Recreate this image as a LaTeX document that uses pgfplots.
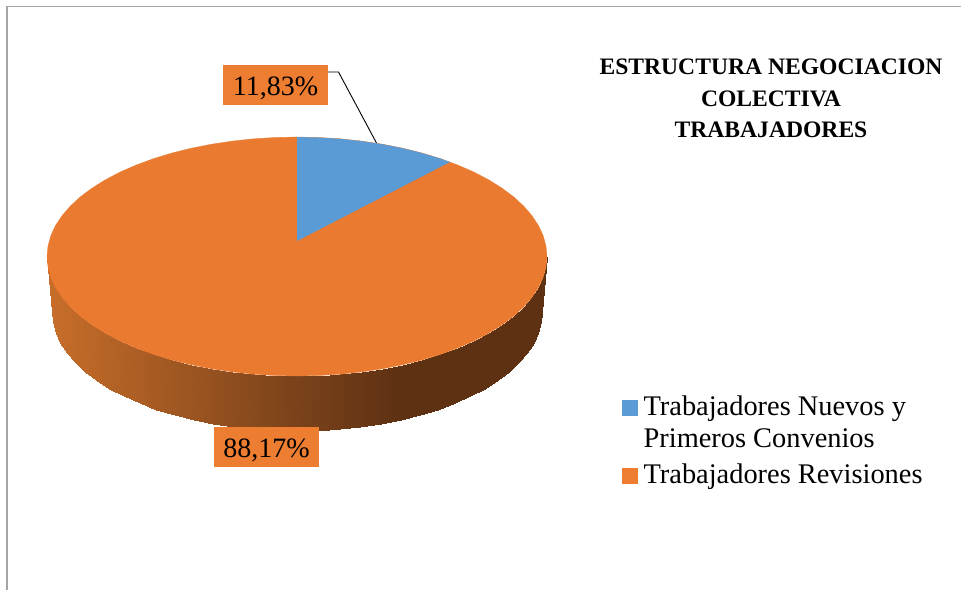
\documentclass[border=0pt]{standalone}
\usepackage{pgfplots}
\pgfplotsset{compat=1.18}
\usepackage{fontspec}
\setmainfont{Liberation Serif}
\definecolor{sliceBlue}{RGB}{91,155,213}
\definecolor{sliceOrange}{RGB}{233,122,47}
\definecolor{labelOrange}{RGB}{237,125,49}
\definecolor{frameGray}{RGB}{165,165,165}
\begin{document}
\begin{tikzpicture}
\begin{axis}[
  scale only axis, width=961pt, height=590pt,
  xmin=0, xmax=961, ymin=0, ymax=590, y dir=reverse,
  hide axis, clip=false,
  colormap={side}{rgb255(0pt)=(200,110,42) rgb255(250pt)=(122,66,26) rgb255(353pt)=(94,49,19) rgb255(500pt)=(94,49,19)},
  point meta min=47, point meta max=547,
  legend style={draw=none, fill=none, at={(axis cs:619,394)}, anchor=north west,
    font=\fontsize{28.4}{32}\selectfont, nodes={align=left, inner sep=0pt}, row sep=14pt,
    /tikz/column 1/.style={column sep=6pt}},
  legend cell align=left,
]
\path[use as bounding box] (axis cs:0,0) rectangle (axis cs:961,590);
% frame
\addplot[frameGray, line width=1.6pt, forget plot] coordinates {(7,590) (7,6.5) (961,6.5)};
% side wall
\addplot[patch, patch type=rectangle, shader=interp, point meta=x, forget plot,
  patch table={
0 1 38 37\\ 1 2 39 38\\ 2 3 40 39\\ 3 4 41 40\\ 4 5 42 41\\ 5 6 43 42\\
6 7 44 43\\ 7 8 45 44\\ 8 9 46 45\\ 9 10 47 46\\ 10 11 48 47\\ 11 12 49 48\\
12 13 50 49\\ 13 14 51 50\\ 14 15 52 51\\ 15 16 53 52\\ 16 17 54 53\\ 17 18 55 54\\
18 19 56 55\\ 19 20 57 56\\ 20 21 58 57\\ 21 22 59 58\\ 22 23 60 59\\ 23 24 61 60\\
24 25 62 61\\ 25 26 63 62\\ 26 27 64 63\\ 27 28 65 64\\ 28 29 66 65\\ 29 30 67 66\\
30 31 68 67\\ 31 32 69 68\\ 32 33 70 69\\ 33 34 71 70\\ 34 35 72 71\\ 35 36 73 72\\
}] table[row sep=\\] {
x y\\
547 256.5\\ 546 266.9\\ 543.2 277.2\\ 538.5 287.4\\ 531.9 297.4\\ 523.6 307\\ 513.5 316.3\\ 501.8 325\\ 488.5 333.3\\
473.8 341\\ 457.7 348\\ 440.4 354.4\\ 422 360\\ 402.7 364.8\\ 382.5 368.8\\ 361.7 371.9\\ 340.4 374.2\\ 318.8 375.5\\
297 376\\ 275.2 375.5\\ 253.6 374.2\\ 232.3 371.9\\ 211.5 368.8\\ 191.3 364.8\\ 172 360\\ 153.6 354.4\\ 136.3 348\\
120.2 341\\ 105.5 333.3\\ 92.2 325\\ 80.5 316.3\\ 70.4 307\\ 62.1 297.4\\ 55.5 287.4\\ 50.8 277.2\\ 48 266.9\\ 47 256.5\\
542 312\\ 541.1 322.4\\ 538.3 332.7\\ 533.6 342.8\\ 527.2 352.7\\ 519 362.3\\ 509.2 371.5\\ 497.7 380.3\\ 484.7 388.5\\
470.2 396.1\\ 454.5 403.2\\ 437.5 409.5\\ 419.5 415.1\\ 400.5 419.9\\ 380.8 423.8\\ 360.4 426.9\\ 339.5 429.2\\ 318.4 430.5\\
297 431\\ 275.6 430.5\\ 254.5 429.2\\ 233.6 426.9\\ 213.2 423.8\\ 193.5 419.9\\ 174.5 415.1\\ 156.5 409.5\\ 139.5 403.2\\
123.8 396.1\\ 109.3 388.5\\ 96.3 380.3\\ 84.8 371.5\\ 75 362.3\\ 66.8 352.7\\ 60.4 342.8\\ 55.7 332.7\\ 52.9 322.4\\ 52 312\\
};
% top face, share 88.17
\addplot[fill=sliceOrange, draw=sliceOrange, line width=0.3pt, forget plot] coordinates {
(547,256.5)(546,266.9)(543.2,277.2)(538.5,287.4)(531.9,297.4)(523.6,307)(513.5,316.3)(501.8,325)(488.5,333.3)
(473.8,341)(457.7,348)(440.4,354.4)(422,360)(402.7,364.8)(382.5,368.8)(361.7,371.9)(340.4,374.2)(318.8,375.5)
(297,376)(275.2,375.5)(253.6,374.2)(232.3,371.9)(211.5,368.8)(191.3,364.8)(172,360)(153.6,354.4)(136.3,348)
(120.2,341)(105.5,333.3)(92.2,325)(80.5,316.3)(70.4,307)(62.1,297.4)(55.5,287.4)(50.8,277.2)(48,266.9)(47,256.5)
(48,246.1)(50.8,235.8)(55.5,225.6)(62.1,215.6)(70.4,206)(80.5,196.7)(92.2,188)(105.5,179.7)
(120.2,172)(136.3,165)(153.6,158.6)(172,153)(191.3,148.2)(211.5,144.2)(232.3,141.1)(253.6,138.8)(275.2,137.5)
(297,137)(318.8,137.5)(340.4,138.8)(361.7,141.1)(382.5,144.2)(402.7,148.2)(422,153)(440.4,158.6)(457.7,165)
(473.8,172)(488.5,179.7)(501.8,188)(513.5,196.7)(523.6,206)(531.9,215.6)(538.5,225.6)(543.2,235.8)(546,246.1)
} --cycle;
% top face, share 11.83
\addplot[fill=sliceBlue, draw=none, forget plot] coordinates {
(297,241)(297,137)(318.8,137.5)(340.4,138.8)(361.7,141.1)(382.5,144.2)(402.7,148.2)(422,153)(440.4,158.6)(450,162)
} --cycle;
% leader line
\addplot[black, line width=0.9pt, forget plot] coordinates {(328,72)(338.5,72)(376.5,143)};
% labels
\node[fill=labelOrange, minimum width=105pt, minimum height=40pt, inner sep=0pt, anchor=center,
  font=\fontsize{28}{32}\selectfont] at (axis cs:275.5,85) {\raisebox{-10pt}[0pt][0pt]{11,83\%}};
\node[fill=labelOrange, minimum width=105pt, minimum height=40pt, inner sep=0pt, anchor=center,
  font=\fontsize{28}{32}\selectfont] at (axis cs:266.5,447) {\raisebox{-10.5pt}[0pt][0pt]{88,17\%}};
% title
\node[align=center, anchor=north, font=\fontsize{23.6}{31.5}\selectfont\bfseries] at (axis cs:771,55.5)
  {ESTRUCTURA NEGOCIACION\\COLECTIVA\\TRABAJADORES};
% legend
\addlegendimage{area legend, legend image code/.code={\fill[sliceBlue] (0pt,8pt) rectangle (15pt,23pt);}}
\addlegendentry{Trabajadores Nuevos y\\Primeros Convenios}
\addlegendimage{area legend, legend image code/.code={\fill[labelOrange] (0pt,-9pt) rectangle (15pt,6pt);}}
\addlegendentry{Trabajadores Revisiones}
\end{axis}
\end{tikzpicture}
\end{document}
